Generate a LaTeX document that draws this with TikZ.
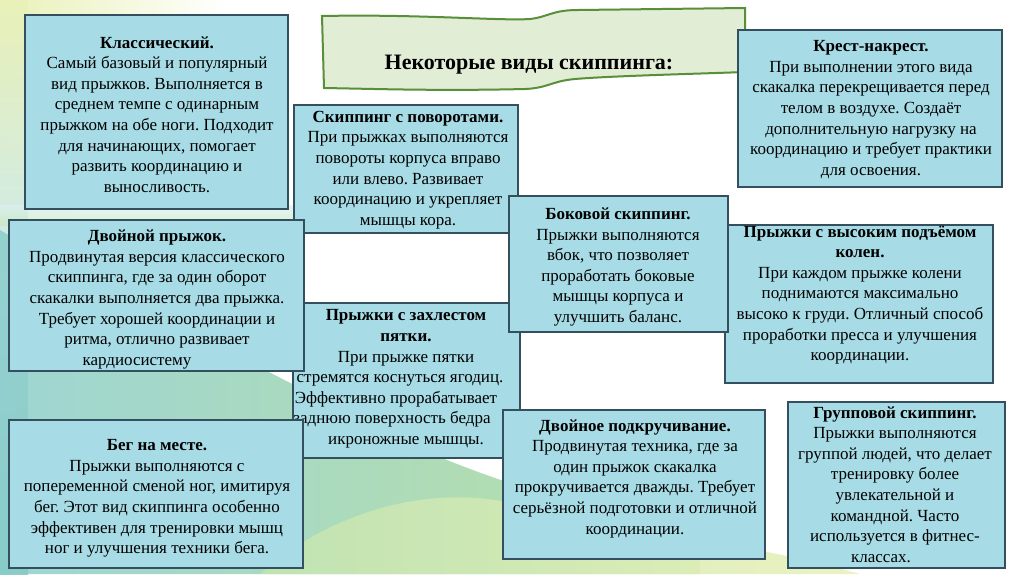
\documentclass[tikz,border=0pt]{standalone}
\usepackage{fontspec}
\setmainfont{Liberation Serif}
\frenchspacing
\definecolor{boxfill}{HTML}{A7DCE6}
\definecolor{boxdraw}{HTML}{34505E}
\definecolor{bannerfill}{HTML}{E2EDD5}
\definecolor{bannerdraw}{HTML}{5A8F3A}
\definecolor{bgteal}{HTML}{86CBC8}
\definecolor{bggreen}{HTML}{A8D98F}
\definecolor{bgyellow}{HTML}{DDE98F}
\definecolor{bglblue}{HTML}{C4E7EE}
\definecolor{bglyellow}{HTML}{E9F1B8}
\begin{document}
\begin{tikzpicture}[x=1pt,y=-1pt,
  box/.style={draw=boxdraw, line width=1.4pt, fill=boxfill, rectangle, inner sep=0pt},
  txt/.style={align=center, inner sep=0pt, font=\fontsize{17}{20.6}\selectfont\frenchspacing, text=black},
  ttl/.style={inner sep=0pt, font=\fontsize{22}{25}\selectfont\bfseries, text=black}]
\useasboundingbox (0,0) rectangle (1024,574);
% background
\fill[white] (0,0) rectangle (1024,574);
\shade[inner color=bglyellow, outer color=white] (0,0) circle[radius=230pt];
\shade[top color=bglyellow, bottom color=bglblue, opacity=0.9] (0,0) rectangle (28,300);
\shade[top color=bglblue, bottom color=bgteal, opacity=0.9] (0,300) rectangle (28,574);
\shade[left color=bgteal, right color=bggreen, opacity=0.8]
  (0,230) .. controls (120,300) and (250,360) .. (380,430)
  .. controls (470,475) and (560,500) .. (700,540)
  -- (700,574) -- (0,574) -- cycle;
\shade[left color=bggreen!70, right color=bgyellow!60, opacity=0.9]
  (260,574) .. controls (320,520) and (420,480) .. (520,505)
  .. controls (650,535) and (760,545) .. (860,574) -- cycle;
\shade[top color=bglblue!60, bottom color=bggreen!60, opacity=0.7]
  (0,205) rectangle (300,225);
% banner
\draw[draw=bannerdraw, fill=bannerfill, line width=2pt]
  (322,16) .. controls (420,14) and (500,21) .. (530,19)
  .. controls (548,17) and (552,10) .. (578,10) -- (745,8) -- (745,72)
  .. controls (690,74) and (610,76) .. (575,79)
  .. controls (552,81) and (548,88) .. (525,89)
  .. controls (440,91) and (380,89) .. (324,88) -- cycle;
\node[ttl] (title) at (529,65) {Некоторые виды скиппинга:};
% boxes
\node[box, minimum width=263pt, minimum height=194pt] (b1) at (156.5,112) {};
\node[txt] (t1) at (157,114.5) {\textbf{Классический.}\\ Самый базовый и популярный\\ вид прыжков. Выполняется в\\ среднем темпе с одинарным\\ прыжком на обе ноги. Подходит\\ для начинающих, помогает\\ развить координацию и\\ выносливость.};
\node[box, minimum width=264pt, minimum height=157pt] (b2) at (870,108.5) {};
\node[txt] (t2) at (871,109.5) {\textbf{Крест-накрест.}\\ При выполнении этого вида\\ скакалка перекрещивается перед\\ телом в воздухе. Создаёт\\ дополнительную нагрузку на\\ координацию и требует практики\\ для освоения.};
\node[box, minimum width=224pt, minimum height=128pt] (b3) at (406,169) {};
\node[txt] (t3) at (408,170) {\textbf{Скиппинг с поворотами.}\\ При прыжках выполняются\\ повороты корпуса вправо\\ или влево. Развивает\\ координацию и укрепляет\\ мышцы кора.};
\node[box, minimum width=227pt, minimum height=155pt] (b7) at (406.5,380.5) {};
\node[txt] (t7) at (406,379) {\textbf{Прыжки с захлестом}\\ \textbf{пятки.}\\ При прыжке пятки\\ стремятся коснуться ягодиц.\hspace*{12pt}\mbox{}\\ Эффективно прорабатывает\hspace*{20pt}\mbox{}\\ заднюю поверхность бедра\hspace*{28pt}\mbox{}\\ икроножные мышцы.};
\node[box, minimum width=295pt, minimum height=151pt] (b4) at (156.5,295.5) {};
\node[txt] (t4) at (157,299.5) {\textbf{Двойной прыжок.}\\ Продвинутая версия классического\\ скиппинга, где за один оборот\\ скакалки выполняется два прыжка.\\ Требует хорошей координации и\\ ритма, отлично развивает\\ кардиосистему\hspace*{40pt}};
\node[box, minimum width=268pt, minimum height=158pt] (b6) at (859,304) {};
\node[txt] (t6) at (860,295) {\textbf{Прыжки с высоким подъёмом}\\ \textbf{колен.}\\ При каждом прыжке колени\\ поднимаются максимально\\ высоко к груди. Отличный способ\\ проработки пресса и улучшения\\ координации.};
\node[box, minimum width=219pt, minimum height=136pt] (b5) at (618.5,264) {};
\node[txt] (t5) at (618,267) {\textbf{Боковой скиппинг.}\\ Прыжки выполняются\\ вбок, что позволяет\\ проработать боковые\\ мышцы корпуса и\\ улучшить баланс.};
\node[box, minimum width=294pt, minimum height=148pt] (b8) at (156,494) {};
\node[txt] (t8) at (157,498.5) {\textbf{Бег на месте.}\\ Прыжки выполняются с\\ попеременной сменой ног, имитируя\\ бег. Этот вид скиппинга особенно\\ эффективен для тренировки мышц\\ ног и улучшения техники бега.};
\node[box, minimum width=262pt, minimum height=149pt] (b9) at (634,484.5) {};
\node[txt] (t9) at (635,478.5) {\textbf{Двойное подкручивание.}\\ Продвинутая техника, где за\\ один прыжок скакалка\\ прокручивается дважды. Требует\\ серьёзной подготовки и отличной\\ координации.};
\node[box, minimum width=217pt, minimum height=166pt] (b10) at (896.5,485) {};
\node[txt] (t10) at (895,484.5) {\textbf{Групповой скиппинг.}\\ Прыжки выполняются\\ группой людей, что делает\\ тренировку более\\ увлекательной и\\ командной. Часто\\ используется в фитнес-\\ классах.\hspace*{28pt}};
\end{tikzpicture}
\end{document}
